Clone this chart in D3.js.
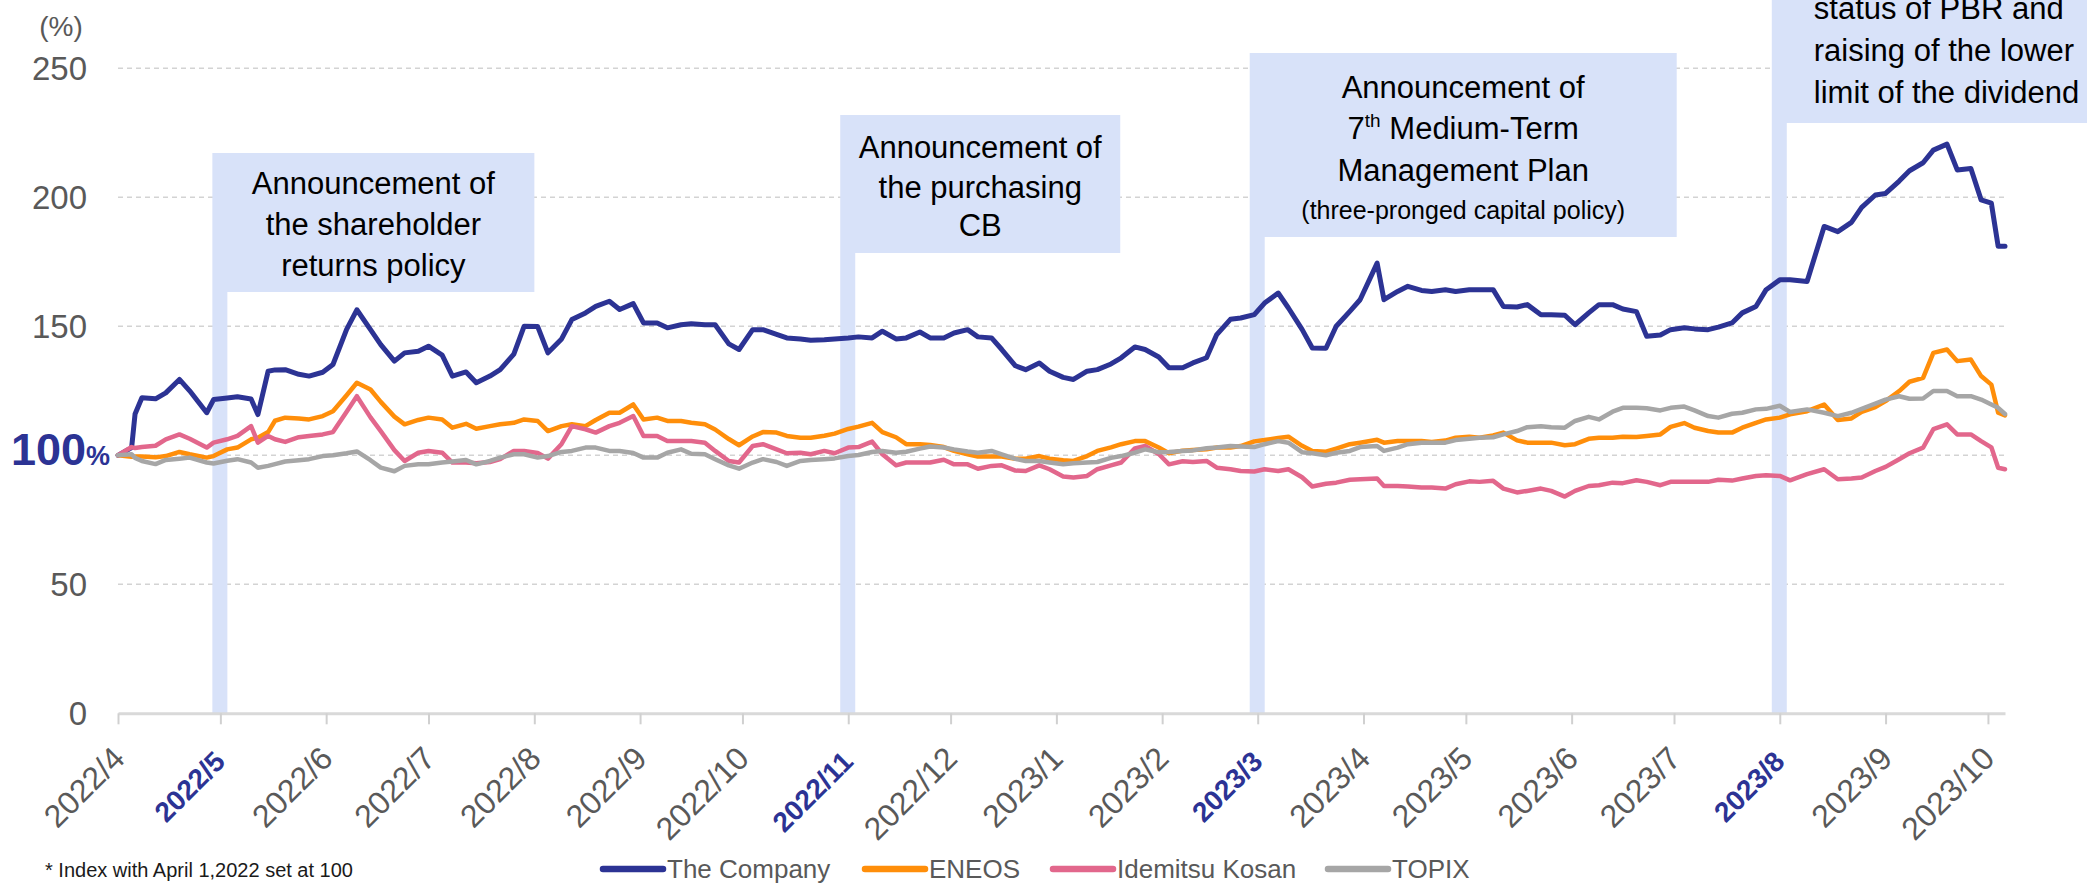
<!DOCTYPE html>
<html lang="en">
<head>
    <meta charset="UTF-8">
    <title>Share price index</title>
    <script src="https://cdnjs.cloudflare.com/ajax/libs/d3/7.8.5/d3.min.js"></script>
    <style>
        body {
            margin: 0;
            background-color: white;
            font-family: Arial, "Liberation Sans", sans-serif;
        }
        svg {
            display: block;
        }
    </style>
</head>
<body>
    <svg id="chart" width="2087" height="884"></svg>

    <script>
        // Data (index, April 1, 2022 = 100)
        const dates = [
            "2022-04-01", "2022-04-05", "2022-04-06", "2022-04-08", "2022-04-12", "2022-04-15", "2022-04-19", "2022-04-22", "2022-04-27", "2022-04-29",
            "2022-05-03", "2022-05-06", "2022-05-10", "2022-05-12", "2022-05-15", "2022-05-17", "2022-05-20", "2022-05-24", "2022-05-27", "2022-05-31",
            "2022-06-03", "2022-06-07", "2022-06-10", "2022-06-14", "2022-06-17", "2022-06-21", "2022-06-24", "2022-06-28", "2022-07-01", "2022-07-05",
            "2022-07-08", "2022-07-12", "2022-07-15", "2022-07-19", "2022-07-22", "2022-07-26", "2022-07-29", "2022-08-02", "2022-08-05", "2022-08-09",
            "2022-08-12", "2022-08-16", "2022-08-19", "2022-08-23", "2022-08-26", "2022-08-30", "2022-09-02", "2022-09-06", "2022-09-09", "2022-09-13",
            "2022-09-16", "2022-09-20", "2022-09-23", "2022-09-27", "2022-09-30", "2022-10-04", "2022-10-07", "2022-10-11", "2022-10-14", "2022-10-18",
            "2022-10-21", "2022-10-25", "2022-10-28", "2022-11-01", "2022-11-04", "2022-11-08", "2022-11-11", "2022-11-15", "2022-11-18", "2022-11-22",
            "2022-11-25", "2022-11-29", "2022-12-02", "2022-12-06", "2022-12-09", "2022-12-13", "2022-12-16", "2022-12-20", "2022-12-23", "2022-12-27",
            "2022-12-30", "2023-01-03", "2023-01-06", "2023-01-10", "2023-01-13", "2023-01-17", "2023-01-20", "2023-01-24", "2023-01-27", "2023-01-31",
            "2023-02-03", "2023-02-07", "2023-02-10", "2023-02-14", "2023-02-17", "2023-02-21", "2023-02-24", "2023-02-28", "2023-03-03", "2023-03-07",
            "2023-03-10", "2023-03-14", "2023-03-17", "2023-03-21", "2023-03-24", "2023-03-28", "2023-03-31", "2023-04-05", "2023-04-07", "2023-04-11",
            "2023-04-14", "2023-04-18", "2023-04-21", "2023-04-25", "2023-04-28", "2023-05-02", "2023-05-05", "2023-05-09", "2023-05-12", "2023-05-16",
            "2023-05-19", "2023-05-23", "2023-05-26", "2023-05-30", "2023-06-02", "2023-06-06", "2023-06-09", "2023-06-13", "2023-06-16", "2023-06-20",
            "2023-06-23", "2023-06-27", "2023-06-30", "2023-07-04", "2023-07-07", "2023-07-11", "2023-07-14", "2023-07-18", "2023-07-21", "2023-07-25",
            "2023-07-28", "2023-08-01", "2023-08-04", "2023-08-09", "2023-08-14", "2023-08-18", "2023-08-22", "2023-08-25", "2023-08-29", "2023-09-01",
            "2023-09-05", "2023-09-08", "2023-09-12", "2023-09-15", "2023-09-19", "2023-09-22", "2023-09-26", "2023-09-29", "2023-10-02", "2023-10-04",
            "2023-10-06"
        ];

        const theCompany = [
            100, 103, 116, 122.3, 121.9, 124.2, 129.4, 125, 116.5, 121.6,
            122.2, 122.7, 121.8, 115.8, 132.6, 133.1, 133.2, 131.4, 130.7, 132.2,
            135.2, 148.8, 156.4, 148.7, 142.9, 136.5, 139.7, 140.3, 142.3, 138.8,
            130.7, 132.3, 128.1, 130.7, 133.2, 139.2, 150, 149.9, 139.7, 145.1,
            152.6, 155.2, 157.7, 159.7, 156.5, 158.8, 151.3, 151.3, 149.4, 150.6,
            151, 150.6, 150.6, 143.2, 141, 148.7, 148.7, 146.9, 145.5, 145.1,
            144.6, 144.8, 145.1, 145.5, 145.9, 145.5, 148.1, 145.1, 145.5, 147.8,
            145.5, 145.5, 147.4, 148.7, 145.9, 145.5, 141, 134.7, 133.2, 135.8,
            132.6, 130.2, 129.4, 132.6, 133.2, 135.4, 137.8, 142, 141, 138.1,
            133.9, 133.9, 135.8, 137.8, 146.8, 152.7, 153.2, 154.5, 159, 162.9,
            157.1, 148.8, 141.6, 141.5, 150, 155.8, 160.3, 174.5, 160.3, 163.5,
            165.5, 163.9, 163.5, 164.2, 163.5, 164.2, 164.2, 164.2, 157.7, 157.5,
            158.4, 154.5, 154.5, 154.3, 150.6, 155.2, 158.4, 158.4, 156.7, 155.7,
            146.1, 146.6, 148.7, 149.4, 149, 148.7, 149.7, 151.3, 155.2, 157.7,
            164.2, 168, 168, 167.4, 188.7, 186.7, 190.3, 196.1, 200.9, 201.5,
            206.3, 210.3, 213.4, 218.3, 220.6, 210.6, 211.2, 199, 197.7, 181,
            181
        ];

        const eneos = [
            100, 99.4, 99.5, 99.5, 99.2, 99.7, 101.3, 100.4, 99.1, 99.7,
            102.3, 103, 106.2, 106.8, 109, 113.4, 114.6, 114.3, 113.9, 115.2,
            117.1, 123.3, 128.1, 125.5, 120.7, 115, 112, 113.7, 114.6, 113.9,
            110.7, 112.2, 110.3, 111.3, 112, 112.6, 113.9, 113.3, 109.4, 111.3,
            112, 111.3, 113.7, 116.5, 116.5, 119.7, 113.9, 114.6, 113.3, 113.3,
            112.6, 112, 110, 106.3, 103.9, 107.3, 109, 108.8, 107.5, 106.8,
            106.8, 107.6, 108.4, 110.2, 111.1, 112.6, 109, 107, 104.3, 104.3,
            104, 103.2, 101.7, 100.4, 99.5, 99.5, 99.5, 98.7, 98.7, 99.7,
            98.7, 98.1, 97.8, 99.7, 101.7, 103.1, 104.3, 105.5, 105.5, 103,
            100.8, 101.8, 102.1, 102.3, 103, 103, 103.6, 105.4, 105.9, 106.7,
            107.2, 103.7, 101.7, 101.4, 102.6, 104.3, 104.9, 106, 104.9, 105.5,
            105.5, 105.5, 105.2, 105.7, 106.8, 107.2, 106.8, 107.7, 108.8, 105.8,
            104.9, 104.9, 104.9, 103.9, 104.3, 106.4, 106.8, 106.8, 107.2, 107.1,
            107.5, 108.1, 111, 112.5, 110.7, 109.4, 108.8, 108.8, 110.7, 112.6,
            113.9, 114.6, 115.9, 117.1, 119.7, 113.7, 114.3, 116.8, 118.7, 121,
            124.9, 128.5, 130, 139.7, 141, 136.5, 137.1, 130.7, 127.4, 116.5,
            115.5
        ];

        const idemitsu = [
            100, 103.2, 102.8, 103.2, 103.7, 106.2, 108.1, 106.4, 103, 104.9,
            106.2, 107.5, 111.3, 104.9, 107.5, 106.2, 105.2, 107, 107.5, 108.1,
            109, 116.9, 122.9, 114.7, 109.4, 102, 97.8, 101, 101.7, 101,
            97.2, 97.2, 96.9, 97.4, 98.5, 101.7, 101.7, 100.9, 98.7, 104.4,
            111.3, 110.1, 108.8, 111.3, 112.6, 115.2, 107.5, 107.5, 105.5, 105.5,
            105.5, 104.9, 101.7, 97.8, 97.2, 103.6, 104.3, 102.3, 100.8, 101,
            100.4, 101.7, 100.8, 103, 103.2, 105.3, 100.4, 96.1, 97.2, 97.2,
            97.2, 98.3, 96.5, 96.5, 94.8, 95.9, 96.1, 94.1, 93.9, 96.1,
            94.6, 91.8, 91.4, 92, 94.6, 96.1, 97.2, 102.7, 103.6, 100.5,
            96.5, 97.7, 97.4, 97.8, 95.2, 94.6, 93.9, 93.7, 94.6, 93.9,
            94.6, 91.5, 87.9, 89, 89.4, 90.5, 90.7, 91, 88.1, 88.1,
            87.9, 87.5, 87.5, 87.1, 88.8, 89.9, 89.7, 90.1, 87.1, 85.6,
            86.2, 87.1, 86.2, 84, 86.2, 88.1, 88.4, 89.4, 89.2, 90.3,
            89.7, 88.4, 89.7, 89.7, 89.7, 89.7, 90.5, 90.2, 91, 92,
            92.3, 92, 90.3, 92.7, 94.6, 90.7, 91, 91.4, 93.9, 95.5,
            98.5, 100.8, 103, 110.1, 112, 108.1, 108.1, 105.5, 103.1, 95.2,
            94.6
        ];

        const topix = [
            100, 100.4, 99, 97.8, 96.6, 98.2, 98.7, 99.1, 97.2, 96.8,
            97.9, 98.5, 97.2, 95.2, 95.9, 96.6, 97.6, 98.1, 98.5, 99.7,
            100, 100.8, 101.5, 98.1, 95.2, 93.8, 95.9, 96.5, 96.5, 97.2,
            97.6, 98.2, 96.5, 97.8, 99.1, 100.4, 100.4, 99.1, 99.7, 101.3,
            101.7, 103, 103, 101.7, 101.7, 100.9, 99.1, 99.1, 101, 102.3,
            100.6, 100.4, 98.5, 96.1, 94.8, 97.2, 98.5, 97.4, 95.9, 97.8,
            98.2, 98.5, 98.8, 99.7, 100.1, 101.3, 101.7, 101, 101.4, 102.6,
            103.4, 103, 102.3, 101.5, 101, 101.7, 100.4, 98.6, 97.8, 97.8,
            97.2, 96.5, 96.9, 97.2, 97.4, 99, 99.7, 101, 102.3, 101.2,
            101.3, 101.7, 101.9, 102.7, 103, 103.6, 103.4, 103.2, 104.3, 105.5,
            104.9, 101.2, 100.8, 100, 101, 101.7, 103.2, 103.6, 101.7, 103,
            104.3, 104.9, 104.9, 104.9, 105.9, 106.4, 106.8, 107, 108.1, 109.4,
            110.9, 111.3, 110.9, 110.7, 113.3, 114.9, 113.9, 116.9, 118.4, 118.4,
            118.2, 117.4, 118.4, 118.9, 117.4, 115.2, 114.6, 116.1, 116.5, 117.8,
            118, 119.2, 116.8, 117.8, 116.5, 115.2, 116.5, 118, 120, 121.6,
            122.9, 121.9, 122, 124.9, 124.9, 122.9, 122.9, 121.6, 119.7, 118.4,
            116
        ];

        const seriesNames = ["The Company", "ENEOS", "Idemitsu Kosan", "TOPIX"];
        const seriesValues = [theCompany, eneos, idemitsu, topix];

        const monthLabels = [
            "2022/4", "2022/5", "2022/6", "2022/7", "2022/8", "2022/9", "2022/10", "2022/11", "2022/12",
            "2023/1", "2023/2", "2023/3", "2023/4", "2023/5", "2023/6", "2023/7", "2023/8", "2023/9", "2023/10"
        ];
        const highlightMonths = ["2022/5", "2022/11", "2023/3", "2023/8"];
        const yTicks = [0, 50, 100, 150, 200, 250];

        const events = [
            { date: "2022-05-01", lines: ["Announcement of", "the shareholder", "returns policy"] },
            { date: "2022-11-01", lines: ["Announcement of", "the purchasing", "CB"] },
            { date: "2023-03-01", lines: ["Announcement of", "7th Medium-Term", "Management Plan", "(three-pronged capital policy)"] },
            { date: "2023-08-01", lines: ["status of PBR and", "raising of the lower", "limit of the dividend"] }
        ];

        // Layout
        const width = 2087;
        const height = 884;
        const colors = ["#2C3394", "#FF8E0A", "#E2678C", "#A6A6A6"];
        const lineWidths = [5, 4.5, 4.5, 4.5];
        const boxColor = "#D8E2F9";
        const tickGray = "#595959";
        const navy = "#2C3394";

        const boxLayout = [
            { width: 322, top: 153, bottom: 292, lineY: [183, 224, 265], anchor: "middle" },
            { width: 280, top: 115, bottom: 253, lineY: [147, 187, 225], anchor: "middle" },
            { width: 427, top: 53, bottom: 237, lineY: [87, 128, 170, 210], anchor: "middle" },
            { width: 330, top: -20, bottom: 123, lineY: [8, 50, 92], anchor: "start", textDx: 42 }
        ];
        const legendX = [603, 865, 1053, 1328];
        const legendY = 869;

        const parseDate = d3.timeParse("%Y-%m-%d");
        const parseMonth = d3.timeParse("%Y/%m");
        const fmtMonth = d3.timeFormat("%Y/%-m");

        const svg = d3.select("#chart")
            .attr("width", width)
            .attr("height", height);

        const x = d3.scaleTime()
            .domain([parseDate("2022-04-01"), parseDate("2023-10-06")])
            .range([118, 2005]);

        const y = d3.scaleLinear()
            .domain([0, 250])
            .range([713.3, 68.3]);

        // Gridlines
        svg.append("g")
            .selectAll("line")
            .data(yTicks.filter(v => v > 0))
            .enter()
            .append("line")
            .attr("x1", 118)
            .attr("x2", 2006)
            .attr("y1", d => y(d))
            .attr("y2", d => y(d))
            .style("stroke", "#D3D3D3")
            .style("stroke-width", 1.5)
            .style("stroke-dasharray", "5,4");

        // Event bands and boxes
        const eventG = svg.append("g");
        events.forEach((ev, i) => {
            const lay = boxLayout[i];
            const left = x(parseDate(ev.date)) - 8;

            eventG.append("rect")
                .attr("x", left)
                .attr("y", lay.bottom)
                .attr("width", 15)
                .attr("height", y(0) - lay.bottom)
                .style("fill", boxColor);

            eventG.append("rect")
                .attr("x", left)
                .attr("y", lay.top)
                .attr("width", lay.width)
                .attr("height", lay.bottom - lay.top)
                .style("fill", boxColor);

            const tx = lay.anchor === "middle" ? left + lay.width / 2 : left + lay.textDx;

            ev.lines.forEach((line, j) => {
                const t = eventG.append("text")
                    .attr("x", tx)
                    .attr("y", lay.lineY[j])
                    .attr("dy", "0.35em")
                    .attr("text-anchor", lay.anchor)
                    .style("fill", "#000")
                    .style("font-size", line.startsWith("(") ? "25px" : "31px");

                if (line.startsWith("7th")) {
                    t.append("tspan").text("7");
                    t.append("tspan").text("th")
                        .style("font-size", "19px")
                        .attr("dy", "-0.6em");
                    t.append("tspan").text(line.slice(3))
                        .attr("dy", "0.37em");
                } else {
                    t.text(line);
                }
            });
        });

        // X axis
        const monthDates = monthLabels.map(m => parseMonth(m));
        const xAxis = svg.append("g")
            .attr("transform", `translate(0,${y(0)})`)
            .call(d3.axisBottom(x)
                .tickValues(monthDates)
                .tickSize(11)
                .tickSizeOuter(0)
                .tickFormat(fmtMonth));

        xAxis.select(".domain")
            .style("stroke", "#D9D9D9")
            .style("stroke-width", 3);

        xAxis.selectAll(".tick line")
            .style("stroke", "#D0D0D0")
            .style("stroke-width", 2);

        xAxis.selectAll(".tick text")
            .attr("y", null)
            .attr("dy", null)
            .attr("text-anchor", "end")
            .each(function(d) {
                const hl = highlightMonths.includes(fmtMonth(d));
                d3.select(this)
                    .attr("transform", hl ? "translate(6,50) rotate(-45)" : "translate(8,47) rotate(-45)")
                    .style("font-family", "Arial, 'Liberation Sans', sans-serif")
                    .style("font-size", hl ? "28px" : "32px")
                    .style("font-weight", hl ? "bold" : "normal")
                    .style("fill", hl ? navy : tickGray);
            });

        // Y labels
        svg.append("g")
            .selectAll("text")
            .data(yTicks.filter(v => v !== 100))
            .enter()
            .append("text")
            .attr("x", 87)
            .attr("y", d => y(d))
            .attr("dy", "0.35em")
            .attr("text-anchor", "end")
            .style("font-size", "33px")
            .style("fill", tickGray)
            .text(d => d);

        const hundred = svg.append("text")
            .attr("x", 110)
            .attr("y", y(100) + 10)
            .attr("text-anchor", "end")
            .style("font-weight", "bold")
            .style("fill", navy);
        hundred.append("tspan").text("100").style("font-size", "45px");
        hundred.append("tspan").text("%").style("font-size", "27px");

        svg.append("text")
            .attr("x", 61)
            .attr("y", 36)
            .attr("text-anchor", "middle")
            .style("font-size", "28px")
            .style("fill", tickGray)
            .text("(%)");

        // Lines
        const line = d3.line()
            .x(d => x(d.date))
            .y(d => y(d.value));

        seriesValues.forEach((vals, i) => {
            const pts = dates.map((d, k) => ({ date: parseDate(d), value: vals[k] }));
            svg.append("path")
                .datum(pts)
                .attr("d", line)
                .style("fill", "none")
                .style("stroke", colors[i])
                .style("stroke-width", lineWidths[i])
                .style("stroke-linejoin", "round")
                .style("stroke-linecap", "round");
        });

        // Legend
        const legend = svg.append("g");
        seriesNames.forEach((name, i) => {
            legend.append("line")
                .attr("x1", legendX[i])
                .attr("x2", legendX[i] + 60)
                .attr("y1", legendY)
                .attr("y2", legendY)
                .style("stroke", colors[i])
                .style("stroke-width", 6.5)
                .style("stroke-linecap", "round");
            legend.append("text")
                .attr("x", legendX[i] + 64)
                .attr("y", legendY)
                .attr("dy", "0.35em")
                .style("font-size", "26px")
                .style("fill", tickGray)
                .text(name);
        });

        // Footnote
        svg.append("text")
            .attr("x", 45)
            .attr("y", 877)
            .style("font-size", "20px")
            .style("fill", "#1A1A1A")
            .text("* Index with April 1,2022 set at 100");
    </script>
</body>
</html>
